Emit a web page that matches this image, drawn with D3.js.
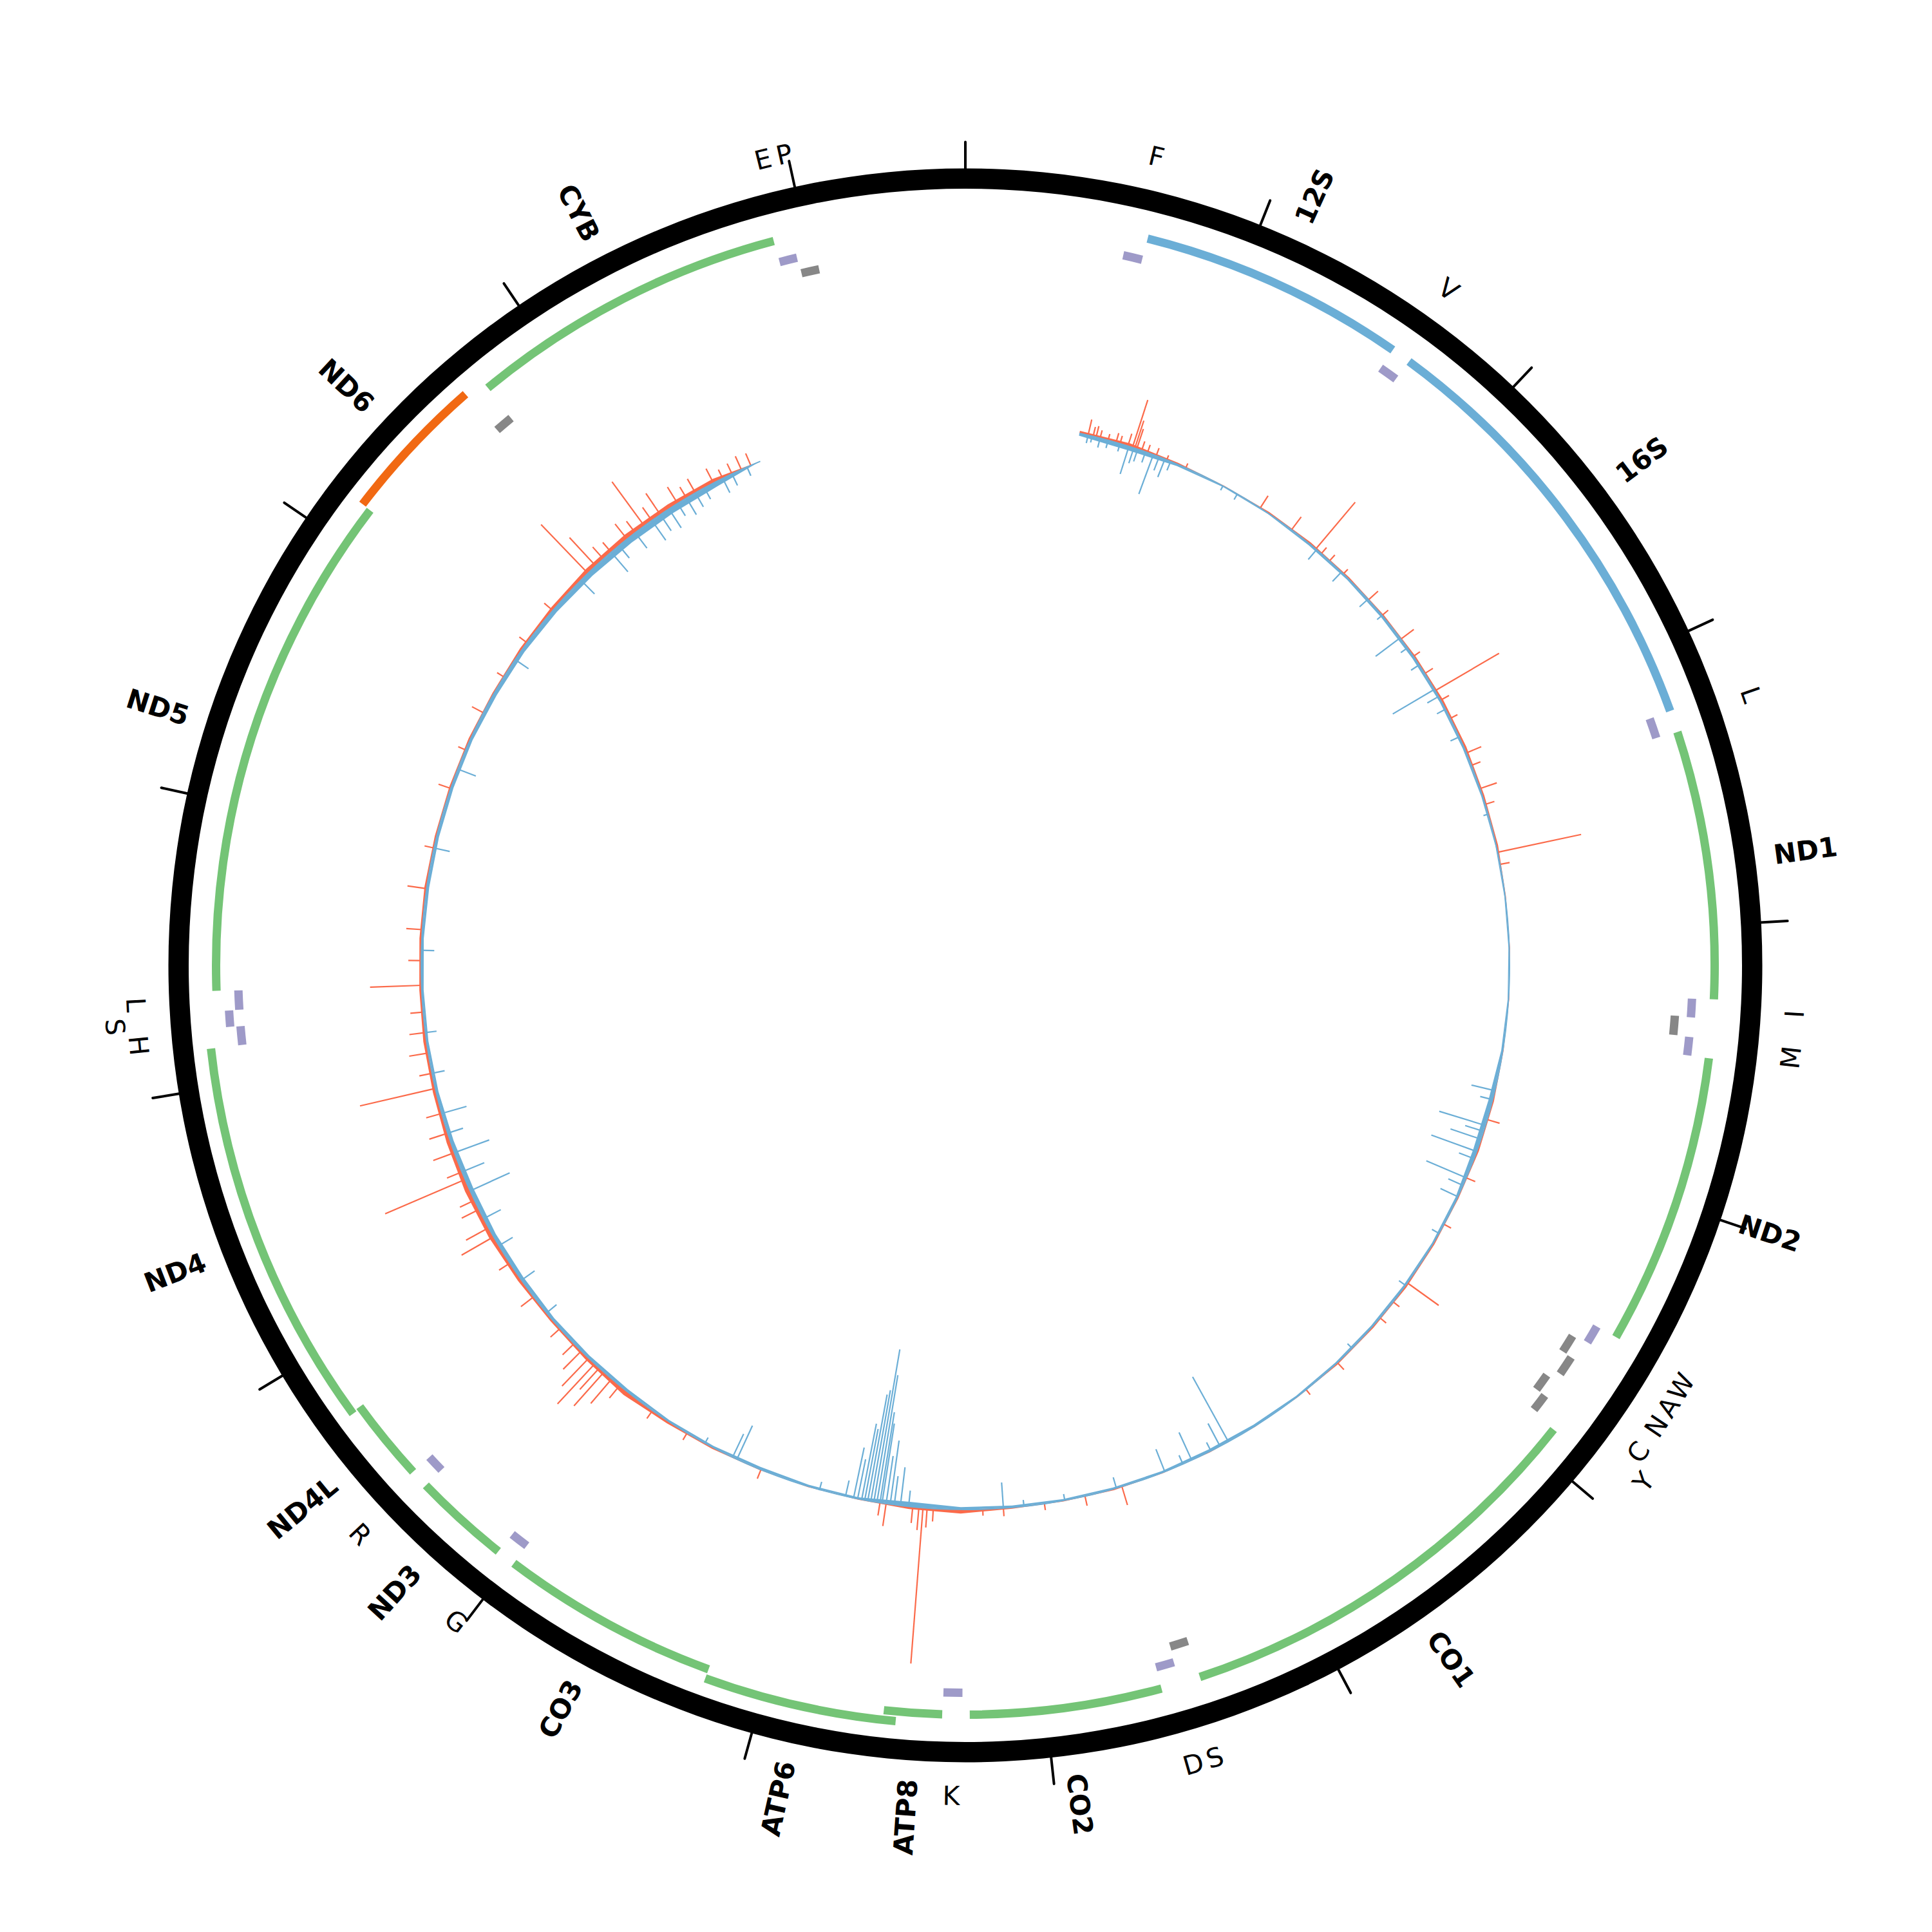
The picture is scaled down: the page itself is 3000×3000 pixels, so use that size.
<!DOCTYPE html>
<html>
<head>
<meta charset="utf-8">
<script src="https://cdn.jsdelivr.net/npm/d3@7"></script>
<style>
  body { margin: 0; background: #fff; }
  text { font-family: "DejaVu Sans", sans-serif; }
</style>
</head>
<body>
<svg id="chart" width="3000" height="3000"></svg>
<script>
const genomeLength = 16569;
const tickStep = 1000;

// protein coding and rRNA genes (bp)
const genes = [
  { name: '12S', start: 648, end: 1601, kind: 'rRNA' },
  { name: '16S', start: 1671, end: 3229, kind: 'rRNA' },
  { name: 'ND1', start: 3307, end: 4262, kind: 'CDS' },
  { name: 'ND2', start: 4470, end: 5511, kind: 'CDS' },
  { name: 'CO1', start: 5904, end: 7445, kind: 'CDS' },
  { name: 'CO2', start: 7586, end: 8269, kind: 'CDS' },
  { name: 'ATP8', start: 8366, end: 8572, kind: 'CDS' },
  { name: 'ATP6', start: 8527, end: 9207, kind: 'CDS' },
  { name: 'CO3', start: 9207, end: 9990, kind: 'CDS' },
  { name: 'ND3', start: 10059, end: 10404, kind: 'CDS' },
  { name: 'ND4L', start: 10470, end: 10766, kind: 'CDS' },
  { name: 'ND4', start: 10760, end: 12137, kind: 'CDS' },
  { name: 'ND5', start: 12337, end: 14148, kind: 'CDS' },
  { name: 'ND6', start: 14149, end: 14673, kind: 'CDSrev' },
  { name: 'CYB', start: 14747, end: 15887, kind: 'CDS' }
];

// tRNAs, strand +1 / -1, label as printed
const trnas = [
  { name: 'F', start: 577, end: 647, strand: 1, label: 'F' },
  { name: 'V', start: 1602, end: 1670, strand: 1, label: 'V' },
  { name: 'L1', start: 3230, end: 3304, strand: 1, label: 'L' },
  { name: 'I', start: 4263, end: 4331, strand: 1, label: 'I' },
  { name: 'Q', start: 4329, end: 4400, strand: -1, label: '' },
  { name: 'M', start: 4402, end: 4469, strand: 1, label: 'M' },
  { name: 'W', start: 5512, end: 5579, strand: 1, label: 'W' },
  { name: 'A', start: 5587, end: 5655, strand: -1, label: 'A' },
  { name: 'N', start: 5657, end: 5729, strand: -1, label: 'N' },
  { name: 'C', start: 5761, end: 5826, strand: -1, label: 'C' },
  { name: 'Y', start: 5826, end: 5891, strand: -1, label: 'Y' },
  { name: 'S1', start: 7446, end: 7514, strand: -1, label: 'S' },
  { name: 'D', start: 7518, end: 7585, strand: 1, label: 'D' },
  { name: 'K', start: 8295, end: 8364, strand: 1, label: 'K' },
  { name: 'G', start: 9991, end: 10058, strand: 1, label: 'G' },
  { name: 'R', start: 10405, end: 10469, strand: 1, label: 'R' },
  { name: 'H', start: 12138, end: 12206, strand: 1, label: 'H' },
  { name: 'S2', start: 12207, end: 12265, strand: 1, label: 'S' },
  { name: 'L2', start: 12266, end: 12336, strand: 1, label: 'L' },
  { name: 'E', start: 14674, end: 14742, strand: -1, label: '' },
  { name: 'T', start: 15888, end: 15953, strand: 1, label: 'E' },
  { name: 'P', start: 15956, end: 16023, strand: -1, label: 'P' }
];

// coverage track span (bp)
const coverageStart = 557;
const coverageEnd = 15550;

// spikes [bp, depth]; forward = outward (red), reverse = inward (blue)
const fwdPeaks = [
  [600, 10], [625, 6], [640, 7], [660, 5], [700, 4], [740, 6], [760, 5], [800, 8], [823, 31], [835, 18],
  [845, 13], [870, 6], [900, 5], [945, 5], [1000, 3], [1100, 3], [1510, 9], [1695, 10], [1845, 38],
  [1880, 5], [1933, 5], [2025, 4], [2200, 8], [2300, 5], [2447, 10], [2550, 5], [2650, 6], [2747, 46],
  [2800, 6], [2900, 5], [3085, 10], [3150, 6], [3270, 11], [3350, 6], [3590, 53], [3650, 6], [4900, 8],
  [5200, 6], [5450, 5], [5785, 24], [5900, 5], [6000, 5], [6300, 6], [6500, 4], [7515, 12], [7700, 6],
  [7900, 4], [8100, 5], [8200, 4], [8440, 8], [8470, 12], [8490, 97], [8510, 14], [8540, 10], [8670, 14],
  [8700, 8], [9300, 6], [9700, 5], [9900, 6], [10100, 10], [10150, 20], [10200, 28], [10230, 18],
  [10260, 34], [10300, 24], [10350, 16], [10400, 10], [10500, 8], [10700, 10], [10900, 8], [11050, 23],
  [11100, 16], [11200, 12], [11250, 10], [11360, 54], [11400, 10], [11500, 14], [11600, 12], [11700, 10],
  [11825, 48], [11900, 8], [12000, 12], [12100, 10], [12200, 8], [12330, 32], [12450, 8], [12600, 10],
  [12800, 12], [13000, 6], [13300, 8], [13500, 5], [13700, 8], [13900, 5], [14100, 6], [14300, 7],
  [14548, 42], [14600, 24], [14650, 10], [14700, 8], [14800, 12], [14850, 9], [14905, 34], [14950, 10],
  [15000, 16], [15100, 12], [15150, 8], [15200, 10], [15300, 10], [15350, 6], [15400, 7], [15450, 9], [15500, 8]
];
const revPeaks = [
  [600, 5], [620, 4], [660, 6], [700, 5], [760, 5], [805, 18], [830, 10], [850, 8], [890, 7], [930, 26],
  [960, 9], [990, 12], [1020, 6], [1300, 3], [1380, 4], [1850, 8], [2012, 8], [2196, 7], [2300, 4],
  [2440, 19], [2500, 5], [2600, 6], [2740, 30], [2780, 8], [2850, 6], [3000, 6], [3400, 3], [4755, 15],
  [4800, 8], [4930, 30], [4960, 12], [5000, 20], [5063, 30], [5100, 10], [5200, 27], [5240, 10], [5300, 12],
  [5500, 5], [5800, 5], [6200, 4], [6954, 46], [7000, 16], [7050, 6], [7153, 19], [7200, 6], [7295, 15],
  [7543, 7], [7800, 4], [8000, 4], [8100, 16], [8560, 10], [8600, 24], [8630, 18], [8650, 40], [8670, 30],
  [8690, 50], [8700, 57], [8715, 80], [8730, 96], [8745, 70], [8760, 67], [8775, 45], [8790, 48],
  [8810, 25], [8830, 32], [8870, 10], [9000, 5], [9427, 23], [9450, 16], [9600, 4], [10600, 8],
  [10800, 10], [11000, 10], [11150, 12], [11300, 27], [11400, 15], [11500, 23], [11600, 10], [11700, 16],
  [11900, 8], [12100, 7], [12500, 8], [13000, 10], [13400, 12], [14000, 10], [14500, 12], [14700, 16],
  [14750, 10], [14850, 12], [14950, 15], [15000, 12], [15050, 14], [15100, 9], [15150, 12], [15200, 10],
  [15250, 8], [15350, 10], [15400, 8], [15480, 6]
];

// low-level depth in 250 bp bins starting at coverageStart
const binSize = 250;
const fwdBackground = [1.5, 2, 1, 0.5, 1, 1.2, 1, 1, 1.2, 1.5, 1.5, 1.2, 1.2, 0.5, 0.5, 0.5, 0.5, 1, 1.2,
  0.8, 1, 1.2, 1, 1, 0.5, 0.5, 0.5, 0.5, 0.8, 0.5, 0.8, 2.5, 1.5, 0.5, 0.5, 0.5, 1, 1.5, 3, 2, 1.5, 2,
  2.8, 3, 2.5, 2, 2, 1.5, 1.5, 1.5, 1.2, 1.2, 1.2, 1, 1.5, 2, 2.8, 3, 2.8, 2.5];
const revBackground = [1.5, 2.5, 1.2, 0.5, 0.5, 1, 1, 1.2, 1.2, 1, 1, 0.8, 0.5, 0.5, 0.5, 0.5, 1, 2.5,
  2.5, 1.2, 0.8, 1, 1, 0.8, 0.8, 1.2, 1.5, 1, 1, 1, 1.2, 1.5, 3, 1, 1, 1.5, 1, 1, 1.5, 1.5, 1.5, 2, 2,
  2.5, 2, 1.5, 1.2, 1.2, 1.2, 1.5, 1.5, 1.5, 1.5, 2, 2, 2.5, 3, 3.5, 3.5, 3];

const colors = {
  CDS: '#74c476', rRNA: '#6baed6', CDSrev: '#f16913',
  trnaFwd: '#9e9ac8', trnaRev: '#878787',
  fwdDepth: '#fb6a4a', revDepth: '#6baed6'
};

const cx = 1499, cy = 1499;
const ringInner = 1206, ringOuter = 1237.5;
const geneR = 1157, barW = 13, laneStep = 15;
const trnaFwdR = 1123, trnaRevR = 1098;
const baseR = 845;
const labelGeneR = 1267, labelTrnaR = 1290;

const svg = d3.select('#chart');
const g = svg.append('g').attr('transform', `translate(${cx},${cy})`);

const angle = d3.scaleLinear().domain([0, genomeLength]).range([0, 2 * Math.PI]);
const depth = d3.scaleLinear().domain([0, 100]).range([0, 250]);
const toDeg = (bp) => (angle(bp) * 180) / Math.PI;
const arc = d3.arc();

// overlapping neighbours go to a second (outer) lane
function assignLanes(list) {
  let lastEnd = -Infinity;
  list.forEach((f) => {
    if (f.start <= lastEnd + 2) f.lane = 1;
    else { f.lane = 0; lastEnd = f.end; }
  });
}
assignLanes(genes);
assignLanes(trnas.filter((d) => d.strand === 1));
assignLanes(trnas.filter((d) => d.strand === -1));

// outer black ring
g.append('path')
  .attr('d', arc({ innerRadius: ringInner, outerRadius: ringOuter, startAngle: 0, endAngle: 2 * Math.PI }))
  .attr('fill', '#000');

// ticks every 1000 bp
g.selectAll('.tick')
  .data(d3.range(0, genomeLength, tickStep))
  .enter()
  .append('line')
  .attr('class', 'tick')
  .attr('x1', (d) => d3.pointRadial(angle(d), ringOuter - 2)[0])
  .attr('y1', (d) => d3.pointRadial(angle(d), ringOuter - 2)[1])
  .attr('x2', (d) => d3.pointRadial(angle(d), ringOuter + 41)[0])
  .attr('y2', (d) => d3.pointRadial(angle(d), ringOuter + 41)[1])
  .attr('stroke', '#000')
  .attr('stroke-width', 4)
  .attr('stroke-linecap', 'round');

// gene bars
g.selectAll('.gene')
  .data(genes)
  .enter()
  .append('path')
  .attr('class', 'gene')
  .attr('d', (d) => arc({
    innerRadius: geneR + d.lane * laneStep,
    outerRadius: geneR + d.lane * laneStep + barW,
    startAngle: angle(d.start),
    endAngle: angle(d.end)
  }))
  .attr('fill', (d) => colors[d.kind]);

// tRNA boxes
g.selectAll('.trna')
  .data(trnas)
  .enter()
  .append('path')
  .attr('class', 'trna')
  .attr('d', (d) => {
    const r0 = (d.strand === 1 ? trnaFwdR : trnaRevR) + d.lane * 16;
    return arc({ innerRadius: r0, outerRadius: r0 + barW, startAngle: angle(d.start), endAngle: angle(d.end) });
  })
  .attr('fill', (d) => (d.strand === 1 ? colors.trnaFwd : colors.trnaRev));

// coverage background
const bins = fwdBackground.map((v, i) => ({
  pos: Math.min(coverageStart + i * binSize, coverageEnd),
  fwd: v,
  rev: revBackground[i]
}));
bins.push({ pos: coverageEnd, fwd: 0, rev: 0 });

g.append('path')
  .datum(bins)
  .attr('d', d3.areaRadial()
    .angle((d) => angle(d.pos))
    .innerRadius(baseR)
    .outerRadius((d) => baseR + depth(d.fwd))
    .curve(d3.curveLinear))
  .attr('fill', colors.fwdDepth);

g.append('path')
  .datum(bins)
  .attr('d', d3.areaRadial()
    .angle((d) => angle(d.pos))
    .innerRadius((d) => baseR - depth(d.rev))
    .outerRadius(baseR)
    .curve(d3.curveLinear))
  .attr('fill', colors.revDepth);

// spikes
function drawPeaks(data, sign, color) {
  g.append('g')
    .selectAll('line')
    .data(data)
    .enter()
    .append('line')
    .attr('x1', (d) => d3.pointRadial(angle(d[0]), baseR)[0])
    .attr('y1', (d) => d3.pointRadial(angle(d[0]), baseR)[1])
    .attr('x2', (d) => d3.pointRadial(angle(d[0]), baseR + sign * depth(d[1]))[0])
    .attr('y2', (d) => d3.pointRadial(angle(d[0]), baseR + sign * depth(d[1]))[1])
    .attr('stroke', color)
    .attr('stroke-width', 2.2);
}
drawPeaks(fwdPeaks, 1, colors.fwdDepth);
drawPeaks(revPeaks, -1, colors.revDepth);

// baseline
g.append('path')
  .attr('d', arc({ innerRadius: baseR - 1, outerRadius: baseR + 1, startAngle: angle(coverageStart), endAngle: angle(coverageEnd) }))
  .attr('fill', colors.revDepth);

// gene labels (radial)
g.selectAll('.gene-label')
  .data(genes)
  .enter()
  .append('text')
  .attr('class', 'gene-label')
  .attr('transform', (d) => {
    const a = toDeg((d.start + d.end) / 2);
    const [x, y] = d3.pointRadial(angle((d.start + d.end) / 2), labelGeneR);
    const rot = a < 180 ? a - 90 : a + 90;
    return `translate(${x},${y}) rotate(${rot})`;
  })
  .attr('text-anchor', (d) => (toDeg((d.start + d.end) / 2) < 180 ? 'start' : 'end'))
  .attr('dominant-baseline', 'central')
  .style('font-size', '42px')
  .style('font-weight', 'bold')
  .text((d) => d.name);

// tRNA labels (tangential), pushed outward when crowded
const labelled = trnas.filter((d) => d.label !== '').sort((a, b) => a.start - b.start);
let lastMid = -Infinity;
labelled.forEach((d) => {
  const mid = (d.start + d.end) / 2;
  if (mid - lastMid < 67) d.push = 1;
  else { d.push = 0; lastMid = mid; }
});

g.selectAll('.trna-label')
  .data(labelled)
  .enter()
  .append('text')
  .attr('class', 'trna-label')
  .attr('transform', (d) => {
    const mid = (d.start + d.end) / 2;
    const a = toDeg(mid);
    const [x, y] = d3.pointRadial(angle(mid), labelTrnaR + d.push * 34);
    const rot = a > 90 && a < 270 ? a - 180 : a;
    return `translate(${x},${y}) rotate(${rot})`;
  })
  .attr('text-anchor', 'middle')
  .attr('dominant-baseline', 'central')
  .style('font-size', '41px')
  .text((d) => d.label);
</script>
</body>
</html>
